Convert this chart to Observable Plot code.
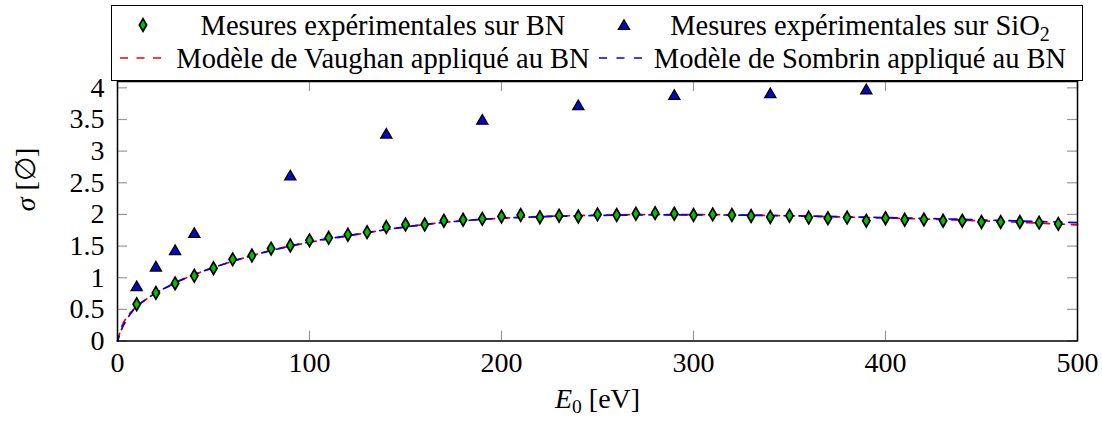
<!DOCTYPE html>
<html>
<head>
<meta charset="utf-8">
<script src="https://cdn.jsdelivr.net/npm/d3@7"></script>
<script src="https://cdn.jsdelivr.net/npm/@observablehq/plot@0.6"></script>
<style>
  html, body { margin: 0; padding: 0; background: #fff; }
  #wrap { width: 1102px; height: 424px; position: relative; font-family: "Liberation Serif", serif; }
  #legend { position: relative; margin-left: 111px; margin-top: 5px; width: 972px; height: 76px; box-sizing: border-box;
            border: 1.5px solid #000; background: #fff; font-size: 28.5px; color: #000; }
  #legend .lbl { position: absolute; transform: translate(-50%, -50%); white-space: nowrap; line-height: 1; }
  #legend svg.sym { position: absolute; overflow: visible; }
  #chart svg { overflow: visible; display: block; }
  #wrap .ov { position: absolute; white-space: nowrap; line-height: 1; font-size: 28px; color: #000; font-family: "Liberation Serif", serif; }
</style>
</head>
<body>
<div id="wrap">
  <div id="legend"></div>
  <div id="chart"></div>
</div>
<script>
// ---- data ----
const bnE = [10,20,30,40,50,60,70,80,90,100,110,120,130,140,150,160,170,180,190,200,210,220,230,240,250,260,270,280,290,300,310,320,330,340,350,360,370,380,390,400,410,420,430,440,450,460,470,480,490];
const bnSigma = [0.58,0.76,0.91,1.03,1.15,1.29,1.35,1.46,1.51,1.59,1.63,1.68,1.72,1.80,1.84,1.84,1.90,1.915,1.93,1.967,1.99,1.956,1.98,1.967,2.00,1.99,2.01,2.02,2.01,1.99,2.00,1.99,1.975,1.96,1.98,1.95,1.94,1.95,1.90,1.94,1.915,1.92,1.90,1.90,1.88,1.88,1.88,1.87,1.85];
const sioE = [10,20,30,40,90,140,190,240,290,340,390];
const sioSigma = [0.85,1.16,1.42,1.69,2.60,3.26,3.48,3.71,3.87,3.90,3.96];
const modelE = [0,2.5,5,7.5,10,15,20,25,30,40,50,60,70,80,90,100,120,140,160,180,200,220,240,260,280,300,320,340,360,380,400,420,440,460,480,500];
const vaughan = [0,0.25,0.38,0.47,0.55,0.66,0.76,0.84,0.92,1.05,1.16,1.26,1.35,1.43,1.50,1.56,1.66,1.76,1.84,1.90,1.94,1.965,1.982,1.993,1.998,1.998,1.993,1.984,1.972,1.958,1.943,1.927,1.908,1.887,1.862,1.835];
const sombrin = [0,0.21,0.35,0.46,0.54,0.66,0.76,0.84,0.92,1.05,1.16,1.26,1.35,1.43,1.50,1.565,1.665,1.76,1.84,1.90,1.94,1.962,1.978,1.988,1.993,1.993,1.99,1.982,1.973,1.962,1.95,1.937,1.922,1.905,1.888,1.87];
const xTicks = [0,100,200,300,400,500];
const yTicks = [0,0.5,1,1.5,2,2.5,3,3.5,4];
const seriesNames = ["Mesures expérimentales sur BN", "Mesures expérimentales sur SiO₂", "Modèle de Vaughan appliqué au BN", "Modèle de Sombrin appliqué au BN"];
const xLabel = "E₀ [eV]";
const yLabel = "σ [∅]";

// ---- styles ----
const green = "#00c000", blue = "#0606c8", red = "#ee0000", lineBlue = "#0000ee";
const FONT = "'Liberation Serif', serif";
const FS = 28;

const tallDiamond = {draw(ctx, size) { const r = Math.sqrt(size / Math.PI); const w = r * 0.64, h = r * 1.1;
  ctx.moveTo(0, -h); ctx.lineTo(w, 0); ctx.lineTo(0, h); ctx.lineTo(-w, 0); ctx.closePath(); }};
const tri = {draw(ctx, size) { const r = Math.sqrt(size / Math.PI);
  ctx.moveTo(0, -r); ctx.lineTo(r * 0.9, r * 0.55); ctx.lineTo(-r * 0.9, r * 0.55); ctx.closePath(); }};

const bn = bnE.map((e, i) => ({e, s: bnSigma[i]}));
const sio = sioE.map((e, i) => ({e, s: sioSigma[i]}));
const vau = modelE.map((e, i) => ({e, s: vaughan[i]}));
const som = modelE.map((e, i) => ({e, s: sombrin[i]}));

const W = 1102, H = 343, mL = 117, mR = 25, mT = 0, mB = 83.5;
const frameW = W - mL - mR, frameH = H - mT - mB;

const chart = Plot.plot({
  width: W, height: H, marginLeft: mL, marginRight: mR, marginTop: mT, marginBottom: mB,
  style: {fontFamily: FONT, fontSize: FS + "px"},
  x: {domain: [0, 500], label: null, axis: null},
  y: {domain: [0, 4.1], label: null, axis: null},
  marks: [
    Plot.tickX(xTicks, {x: d => d, insetTop: frameH - 10, stroke: "#999", strokeWidth: 1.2}),
    Plot.tickX(xTicks, {x: d => d, insetBottom: frameH - 10, stroke: "#999", strokeWidth: 1.2}),
    Plot.tickY(yTicks, {y: d => d, insetRight: frameW - 10, stroke: "#999", strokeWidth: 1.2}),
    Plot.tickY(yTicks, {y: d => d, insetLeft: frameW - 10, stroke: "#999", strokeWidth: 1.2}),
    Plot.axisX({ticks: xTicks, anchor: "bottom", tickSize: 0, tickPadding: 11, tickFormat: d => String(d), label: null, fontSize: FS, fontFamily: FONT}),
    Plot.axisY({ticks: yTicks, anchor: "left", tickSize: 0, tickPadding: 13, tickFormat: d => String(d), label: null, fontSize: FS, fontFamily: FONT}),
    Plot.line(vau, {x: "e", y: "s", stroke: red, strokeWidth: 1.7, strokeDasharray: "8,7", curve: "monotone-x"}),
    Plot.line(som, {x: "e", y: "s", stroke: lineBlue, strokeWidth: 1.7, strokeDasharray: "8,7", strokeDashoffset: 3, curve: "monotone-x"}),
    Plot.dot(bn, {x: "e", y: "s", symbol: tallDiamond, r: 5.7, fill: green, stroke: "#000", strokeWidth: 1.7}),
    Plot.dot(sio, {x: "e", y: "s", symbol: tri, r: 6.2, fill: blue, stroke: "#000", strokeWidth: 1.3}),
    Plot.frame({stroke: "#000", strokeWidth: 1.5}),
    Plot.text([xLabel], {frameAnchor: "bottom", dy: 66.5, fontSize: FS, fontFamily: FONT, fill: "#000"}),
    Plot.text([yLabel], {frameAnchor: "left", dx: -91, rotate: -90, fontSize: FS, fontFamily: FONT, fill: "#000"})
  ]
});
document.getElementById("chart").appendChild(chart);

const X_HTML = '<i>E</i><span style="font-size:0.7em;position:relative;top:0.3em">0</span> [eV]';
const Y_HTML = '<i>σ</i> [∅]';
chart.querySelectorAll("text").forEach(t => {
  t.setAttribute("font-family", FONT);
  t.style.fontFamily = FONT;
  if (t.textContent === xLabel) {
    t.dataset.role = "xlabel";
    t.innerHTML = '<tspan font-style="italic">E</tspan><tspan font-size="0.7em" dy="0.3em">0</tspan><tspan dy="-0.21em"> [eV]</tspan>';
  } else if (t.textContent === yLabel) {
    t.dataset.role = "ylabel";
    t.innerHTML = '<tspan font-style="italic">σ</tspan> [∅]';
  }
});

// ---- legend ----
const leg = document.getElementById("legend");
function addLabel(html, cx, cy) {
  const s = document.createElement("span"); s.className = "lbl"; s.innerHTML = html;
  s.style.left = cx + "px"; s.style.top = cy + "px"; leg.appendChild(s);
}
function addSym(svgInner, x, y) {
  const ns = "http://www.w3.org/2000/svg";
  const s = document.createElementNS(ns, "svg"); s.setAttribute("class", "sym");
  s.setAttribute("width", 1); s.setAttribute("height", 1);
  s.style.left = x + "px"; s.style.top = y + "px"; s.innerHTML = svgInner; leg.appendChild(s);
}
function pathOf(sym, r) { const p = d3.path(); sym.draw(p, r * r * Math.PI); return p.toString(); }
addSym(`<path d="${pathOf(tallDiamond, 5.7)}" fill="${green}" stroke="#000" stroke-width="1.7"/>`, 31, 19);
addSym(`<path d="${pathOf(tri, 6.2)}" fill="${blue}" stroke="#000" stroke-width="1.3"/>`, 512, 20);
addSym(`<line x1="0" x2="41" y1="0" y2="0" stroke="${red}" stroke-width="1.7" stroke-dasharray="8,8.5"/>`, 8, 52);
addSym(`<line x1="0" x2="43" y1="0" y2="0" stroke="${lineBlue}" stroke-width="1.7" stroke-dasharray="8,9.5"/>`, 487, 52);
addLabel(seriesNames[0], 271, 20);
addLabel('Mesures expérimentales sur SiO<span style="font-size:0.7em;position:relative;top:0.3em">2</span>', 748, 20);
addLabel(seriesNames[2], 271, 53);
addLabel(seriesNames[3], 748, 53);

// ---- safety net: if the SVG text did not get the serif face, set the same texts in HTML at the same places ----
try {
  const probe = Array.from(chart.querySelectorAll("text")).find(t => t.textContent === "3.5");
  const cv = document.createElement("canvas").getContext("2d");
  cv.font = FS + "px 'Liberation Serif'";
  const expected = cv.measureText("3.5").width;
  const actual = probe ? probe.getComputedTextLength() : expected;
  if (Math.abs(actual - expected) > 1.2) {
    const wrap = document.getElementById("wrap");
    const wr = wrap.getBoundingClientRect();
    Array.from(chart.querySelectorAll("text")).forEach(t => {
      const r = t.getBoundingClientRect();
      const cx = r.left + r.width / 2 - wr.left, cy = r.top + r.height / 2 - wr.top;
      const anchorEl = t.closest("[text-anchor]");
      const anchor = t.getAttribute("text-anchor") || (anchorEl ? anchorEl.getAttribute("text-anchor") : "middle");
      const s = document.createElement("span"); s.className = "ov";
      const role = t.dataset.role;
      s.innerHTML = role === "xlabel" ? X_HTML : role === "ylabel" ? Y_HTML : t.textContent;
      s.style.top = cy + "px";
      if (role === "ylabel") { s.style.left = cx + "px"; s.style.transform = "translate(-50%, -50%) rotate(-90deg)"; }
      else if (anchor === "end") { s.style.right = (wr.width - (r.right - wr.left)) + "px"; s.style.transform = "translateY(-50%)"; }
      else { s.style.left = cx + "px"; s.style.transform = "translate(-50%, -50%)"; }
      wrap.appendChild(s);
      t.remove();
    });
  }
} catch (e) { /* keep the SVG text as is */ }
</script>
</body>
</html>
